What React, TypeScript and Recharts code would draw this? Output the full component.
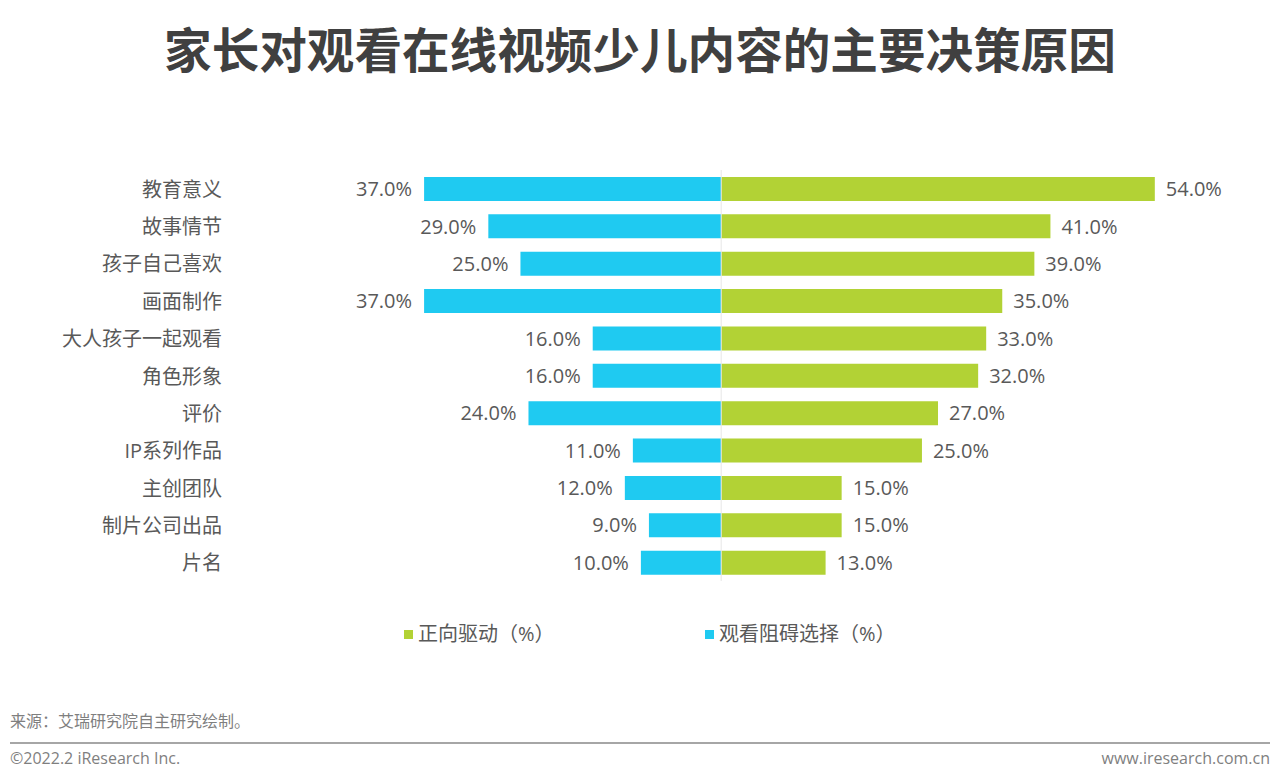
import { Bar, BarChart, LabelList, ReferenceLine, XAxis, YAxis } from "recharts";

// Diverging bar chart: positive drivers to the right, viewing barriers to the left.

const CATEGORIES = [
  "教育意义",
  "故事情节",
  "孩子自己喜欢",
  "画面制作",
  "大人孩子一起观看",
  "角色形象",
  "评价",
  "IP系列作品",
  "主创团队",
  "制片公司出品",
  "片名",
];
const POSITIVE = [54, 41, 39, 35, 33, 32, 27, 25, 15, 15, 13];
const BARRIER = [37, 29, 25, 37, 16, 16, 24, 11, 12, 9, 10];

const GREEN = "#b2d235";
const BLUE = "#1fcaf1";
const TEXT = "#595959";
const FONT = "'Open Sans', 'Noto Sans CJK SC', sans-serif";

const data = CATEGORIES.map((name, i) => ({
  name,
  positive: POSITIVE[i],
  barrier: -BARRIER[i],
}));

const fmt = (v: number) => `${Math.abs(v).toFixed(1)}%`;

function ValueLabel(props: any) {
  const { x, y, width, height, value } = props;
  const left = Math.min(x, x + width);
  const right = Math.max(x, x + width);
  const neg = value < 0;
  return (
    <text
      x={neg ? left - 12 : right + 11}
      y={y + height / 2}
      dy="0.36em"
      textAnchor={neg ? "end" : "start"}
      fill={TEXT}
      fontSize={20}
      fontFamily={FONT}
    >
      {fmt(value)}
    </text>
  );
}

function CategoryTick(props: any) {
  const { y, payload } = props;
  return (
    <text
      x={222}
      y={y}
      dy="0.4em"
      textAnchor="end"
      fill={TEXT}
      fontSize={20}
      fontFamily={FONT}
    >
      {payload.value}
    </text>
  );
}

function LegendRow() {
  const items = [
    { label: "正向驱动（%）", color: GREEN },
    { label: "观看阻碍选择（%）", color: BLUE },
  ];
  return (
    <div
      style={{
        position: "absolute",
        top: 620,
        left: 404,
        display: "flex",
        fontFamily: FONT,
        fontSize: 20,
        color: TEXT,
      }}
    >
      {items.map((it) => (
        <div key={it.label} style={{ width: 301, display: "flex", alignItems: "center" }}>
          <span style={{ width: 9, height: 9, background: it.color, marginRight: 5 }} />
          <span style={{ lineHeight: "28px" }}>{it.label}</span>
        </div>
      ))}
    </div>
  );
}

export default function App() {
  return (
    <div
      style={{
        position: "absolute",
        left: 0,
        top: 0,
        width: 1280,
        height: 784,
        background: "#fff",
        overflow: "hidden",
        fontFamily: FONT,
      }}
    >
      <div
        style={{
          position: "absolute",
          top: 17,
          width: 1280,
          textAlign: "center",
          fontSize: 47.6,
          lineHeight: "62px",
          fontWeight: 700,
          color: "#404040",
          fontFamily: "'Noto Sans CJK SC', sans-serif",
        }}
      >
        家长对观看在线视频少儿内容的主要决策原因
      </div>

      <div style={{ position: "absolute", left: 0, top: 0 }}>
        <BarChart
          width={1280}
          height={784}
          data={data}
          layout="vertical"
          stackOffset="sign"
          barSize={24}
          margin={{ top: 170, right: 77, bottom: 203, left: 200 }}
        >
          <XAxis type="number" domain={[-40, 60]} hide allowDataOverflow />
          <YAxis
            type="category"
            dataKey="name"
            width={200}
            axisLine={false}
            tickLine={false}
            interval={0}
            tick={<CategoryTick />}
          />
          <ReferenceLine x={0} stroke="#e6e6e6" strokeWidth={1} />
          <Bar dataKey="barrier" stackId="a" fill={BLUE} isAnimationActive={false}>
            <LabelList dataKey="barrier" content={<ValueLabel />} />
          </Bar>
          <Bar dataKey="positive" stackId="a" fill={GREEN} isAnimationActive={false}>
            <LabelList dataKey="positive" content={<ValueLabel />} />
          </Bar>
        </BarChart>
      </div>

      <LegendRow />

      <div
        style={{
          position: "absolute",
          left: 10,
          top: 708,
          fontSize: 16,
          color: "#7f7f7f",
          fontFamily: "'Noto Sans CJK SC', sans-serif",
        }}
      >
        来源：艾瑞研究院自主研究绘制。
      </div>
      <div
        style={{
          position: "absolute",
          left: 10,
          top: 742,
          width: 1260,
          height: 2,
          background: "#a6a6a6",
        }}
      />
      <div
        style={{
          position: "absolute",
          left: 10,
          top: 747,
          fontSize: 16,
          color: "#7f7f7f",
        }}
      >
        ©2022.2 iResearch Inc.
      </div>
      <div
        style={{
          position: "absolute",
          right: 10,
          top: 747,
          fontSize: 16,
          color: "#7f7f7f",
        }}
      >
        www.iresearch.com.cn
      </div>
    </div>
  );
}
